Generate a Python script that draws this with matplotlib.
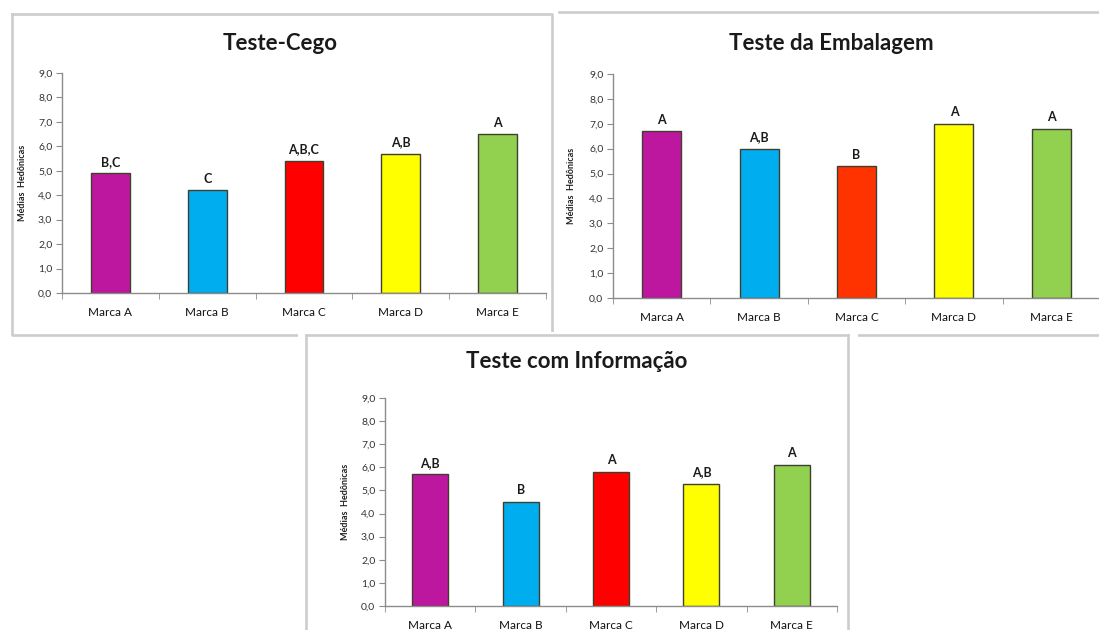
import matplotlib
matplotlib.use('Agg')
import matplotlib.pyplot as plt
from matplotlib.patches import Rectangle
from matplotlib.lines import Line2D
from matplotlib.ticker import FuncFormatter, FixedLocator

plt.rcParams['font.family'] = ['Lato', 'DejaVu Sans']

marcas = ['Marca A', 'Marca B', 'Marca C', 'Marca D', 'Marca E']

cego = [4.9, 4.2, 5.4, 5.7, 6.5]
cego_letras = ['B,C', 'C', 'A,B,C', 'A,B', 'A']

embalagem = [6.7, 6.0, 5.3, 7.0, 6.8]
embalagem_letras = ['A', 'A,B', 'B', 'A', 'A']

informacao = [5.7, 4.5, 5.8, 5.3, 6.1]
informacao_letras = ['A,B', 'B', 'A', 'A,B', 'A']

cores = ['#BE179F', '#00AEEF', '#FF0000', '#FFFF00', '#92D050']
cores_emb = ['#BE179F', '#00AEEF', '#FF3300', '#FFFF00', '#92D050']

W, H = 1099, 630
fig = plt.figure(figsize=(W / 100, H / 100), dpi=100)
fig.patch.set_facecolor('white')


def px_box(x0, y0, x1, y1):
    return [x0 / W, 1 - y1 / H, (x1 - x0) / W, (y1 - y0) / H]


def px_line(xs, ys, z=-3):
    fig.add_artist(Line2D([x / W for x in xs], [1 - y / H for y in ys],
                          color='#CDCDCD', lw=1.9, zorder=z))


# molduras dos gráficos
px_line([12, 552, 552, 12, 12], [14, 14, 335, 335, 14])
px_line([559, 1099], [12, 12])
px_line([555, 1099], [335, 335])
fig.add_artist(Rectangle((298 / W, 1 - 640 / H), 560 / W, 308 / H,
                         facecolor='white', edgecolor='none', zorder=-2))
px_line([306, 306], [335, 640], z=-1)
px_line([306, 848], [335, 335], z=-1)
px_line([848, 848], [335, 640], z=-1)

fmt = FuncFormatter(lambda v, p: f'{v:.1f}'.replace('.', ','))


def painel(box, valores, letras, cores_barras, titulo, tit_xy, ylab_x):
    ax = fig.add_axes(px_box(*box))
    ax.set_facecolor('none')
    pos = range(len(marcas))
    ax.bar(pos, valores, width=0.4, color=cores_barras,
           edgecolor='#3F3F30', linewidth=1.0)
    for x, v, t in zip(pos, valores, letras):
        ax.annotate(t, (x, v), xytext=(0, 4), textcoords='offset points',
                    ha='center', va='bottom', fontsize=9,
                    fontweight='bold', color='#1A1A1A')
    ax.set_xlim(-0.5, len(marcas) - 0.5)
    ax.set_ylim(0, 9)
    ax.set_yticks([i for i in range(10)])
    ax.yaxis.set_major_formatter(fmt)
    ax.set_xticks(list(pos))
    ax.set_xticklabels(marcas, fontsize=8.5, color='#111111')
    ax.xaxis.set_minor_locator(FixedLocator([i - 0.5 for i in range(len(marcas) + 1)]))
    ax.tick_params(axis='x', which='major', length=0, pad=10)
    ax.tick_params(axis='x', which='minor', length=4, color='#8C8C8C')
    ax.tick_params(axis='y', length=4, color='#8C8C8C', labelsize=7.5,
                   labelcolor='#333333', pad=3)
    for s in ['top', 'right']:
        ax.spines[s].set_visible(False)
    for s in ['left', 'bottom']:
        ax.spines[s].set_color('#8C8C8C')
        ax.spines[s].set_linewidth(1.0)
    fig.text(tit_xy[0] / W, 1 - tit_xy[1] / H, titulo, ha='center',
             va='center', fontsize=16, fontweight='bold', color='#1A1A1A')
    fig.text(ylab_x / W, 1 - (box[1] + box[3]) / 2 / H, 'Médias  Hedônicas',
             rotation=90, ha='center', va='center', fontsize=6.5,
             fontweight='bold', color='#202020')
    return ax


painel((62, 73, 546, 293), cego, cego_letras, cores,
       'Teste-Cego', (280, 44), 23)
painel((613, 74, 1100, 298), embalagem, embalagem_letras, cores_emb,
       'Teste da Embalagem', (831, 43), 571)
painel((385, 398, 837, 606), informacao, informacao_letras, cores,
       'Teste com Informação', (577, 361), 345)

fig.savefig('out.png', dpi=100)
